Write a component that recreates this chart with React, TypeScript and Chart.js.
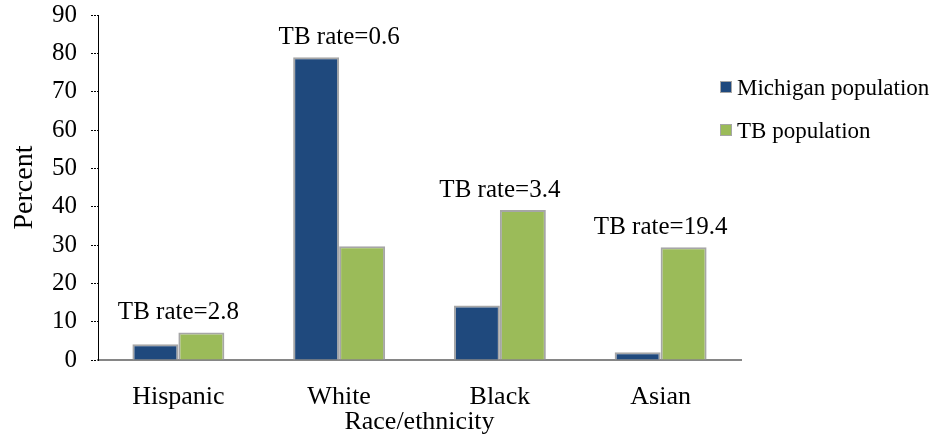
import React, { useEffect, useRef } from "react";
import { Chart, registerables } from "chart.js";

Chart.register(...registerables);

// Share of each race/ethnicity group in Michigan vs. among TB cases
const categories = ["Hispanic", "White", "Black", "Asian"];
const michiganPopulation = [4.1, 79.0, 14.2, 2.0];
const tbPopulation = [7.2, 29.7, 39.1, 29.4];
const tbRates = ["2.8", "0.6", "3.4", "19.4"];
const yTicks = [0, 10, 20, 30, 40, 50, 60, 70, 80, 90];

const BLUE = "#1f497d";
const GREEN = "#9bbb59";
const EDGE = "#a6a6a6";
const FONT = "'Liberation Serif', 'Times New Roman', serif";

// Rate annotations above each category group
const rateLabels = {
  id: "rateLabels",
  afterDatasetsDraw(chart: any) {
    const { ctx, scales } = chart;
    const x = scales.x;
    const y = scales.y;
    ctx.save();
    ctx.font = `25px ${FONT}`;
    ctx.fillStyle = "#000";
    ctx.textAlign = "center";
    ctx.textBaseline = "alphabetic";
    categories.forEach((_, i) => {
      const top = Math.max(michiganPopulation[i], tbPopulation[i]);
      const cx = x.getPixelForValue(i);
      ctx.fillText(`TB rate=${tbRates[i]}`, cx, y.getPixelForValue(top) - 13);
    });
    ctx.restore();
  },
};

// Legend at the right of the plot
const sideLegend = {
  id: "sideLegend",
  afterDraw(chart: any) {
    const { ctx, chartArea } = chart;
    const items = chart.data.datasets.map((d: any) => ({ label: d.label, color: d.backgroundColor }));
    const left = chartArea.right - 21;
    ctx.save();
    ctx.font = `23px ${FONT}`;
    ctx.textBaseline = "alphabetic";
    ctx.textAlign = "left";
    items.forEach((it: any, i: number) => {
      const base = chartArea.top + 80 + i * 43;
      ctx.fillStyle = it.color;
      ctx.fillRect(left, base - 14, 12, 12);
      ctx.strokeStyle = EDGE;
      ctx.lineWidth = 1;
      ctx.strokeRect(left + 0.5, base - 13.5, 11, 11);
      ctx.fillStyle = "#000";
      ctx.fillText(it.label, left + 17, base);
    });
    ctx.restore();
  },
};

export default function App() {
  const canvasRef = useRef<HTMLCanvasElement | null>(null);

  useEffect(() => {
    document.body.style.margin = "0";
    const canvas = canvasRef.current;
    if (!canvas) return;
    const chart = new Chart(canvas, {
      type: "bar",
      data: {
        labels: categories,
        datasets: [
          {
            label: "Michigan population",
            data: michiganPopulation,
            backgroundColor: BLUE,
            borderColor: EDGE,
            borderWidth: 2,
            borderSkipped: "bottom",
            categoryPercentage: 0.572,
            barPercentage: 1,
          },
          {
            label: "TB population",
            data: tbPopulation,
            backgroundColor: GREEN,
            borderColor: EDGE,
            borderWidth: 2,
            borderSkipped: "bottom",
            categoryPercentage: 0.572,
            barPercentage: 1,
          },
        ],
      },
      options: {
        responsive: false,
        animation: false,
        layout: { padding: { top: 15, right: 196, left: 0, bottom: 0 } },
        plugins: {
          legend: { display: false },
          tooltip: { enabled: false },
        },
        scales: {
          x: {
            grid: { drawOnChartArea: false, drawTicks: false, color: "transparent" },
            border: { display: true, color: "#868686", width: 2 },
            ticks: {
              color: "#000",
              padding: 22,
              font: { family: FONT, size: 26 },
            },
            title: {
              display: true,
              text: "Race/ethnicity",
              color: "#000",
              font: { family: FONT, size: 26 },
              padding: { top: 0, bottom: 0 },
            },
            afterFit: (s: any) => {
              s.height = 78;
              s.paddingLeft = 0;
              s.paddingRight = 0;
            },
          },
          y: {
            min: 0,
            max: 90,
            afterBuildTicks: (s: any) => {
              s.ticks = yTicks.map((v) => ({ value: v }));
            },
            grid: {
              drawOnChartArea: false,
              drawTicks: true,
              tickLength: 7,
              tickColor: "#000",
              tickWidth: 1,
              tickBorderDash: [2, 1],
            },
            border: { display: true, color: "#000", width: 1, dash: [2, 1] },
            ticks: {
              color: "#000",
              padding: 14,
              font: { family: FONT, size: 25 },
            },
            title: {
              display: true,
              text: "Percent",
              color: "#000",
              font: { family: FONT, size: 28 },
              padding: { top: 8, bottom: 0 },
            },
            afterFit: (s: any) => {
              s.width = 98;
              s.paddingTop = 0;
              s.paddingBottom = 0;
            },
          },
        },
      },
      plugins: [rateLabels, sideLegend],
    });
    return () => chart.destroy();
  }, []);

  return (
    <div style={{ width: 937, height: 438 }}>
      <canvas ref={canvasRef} width={937} height={438} style={{ display: "block" }} />
    </div>
  );
}
